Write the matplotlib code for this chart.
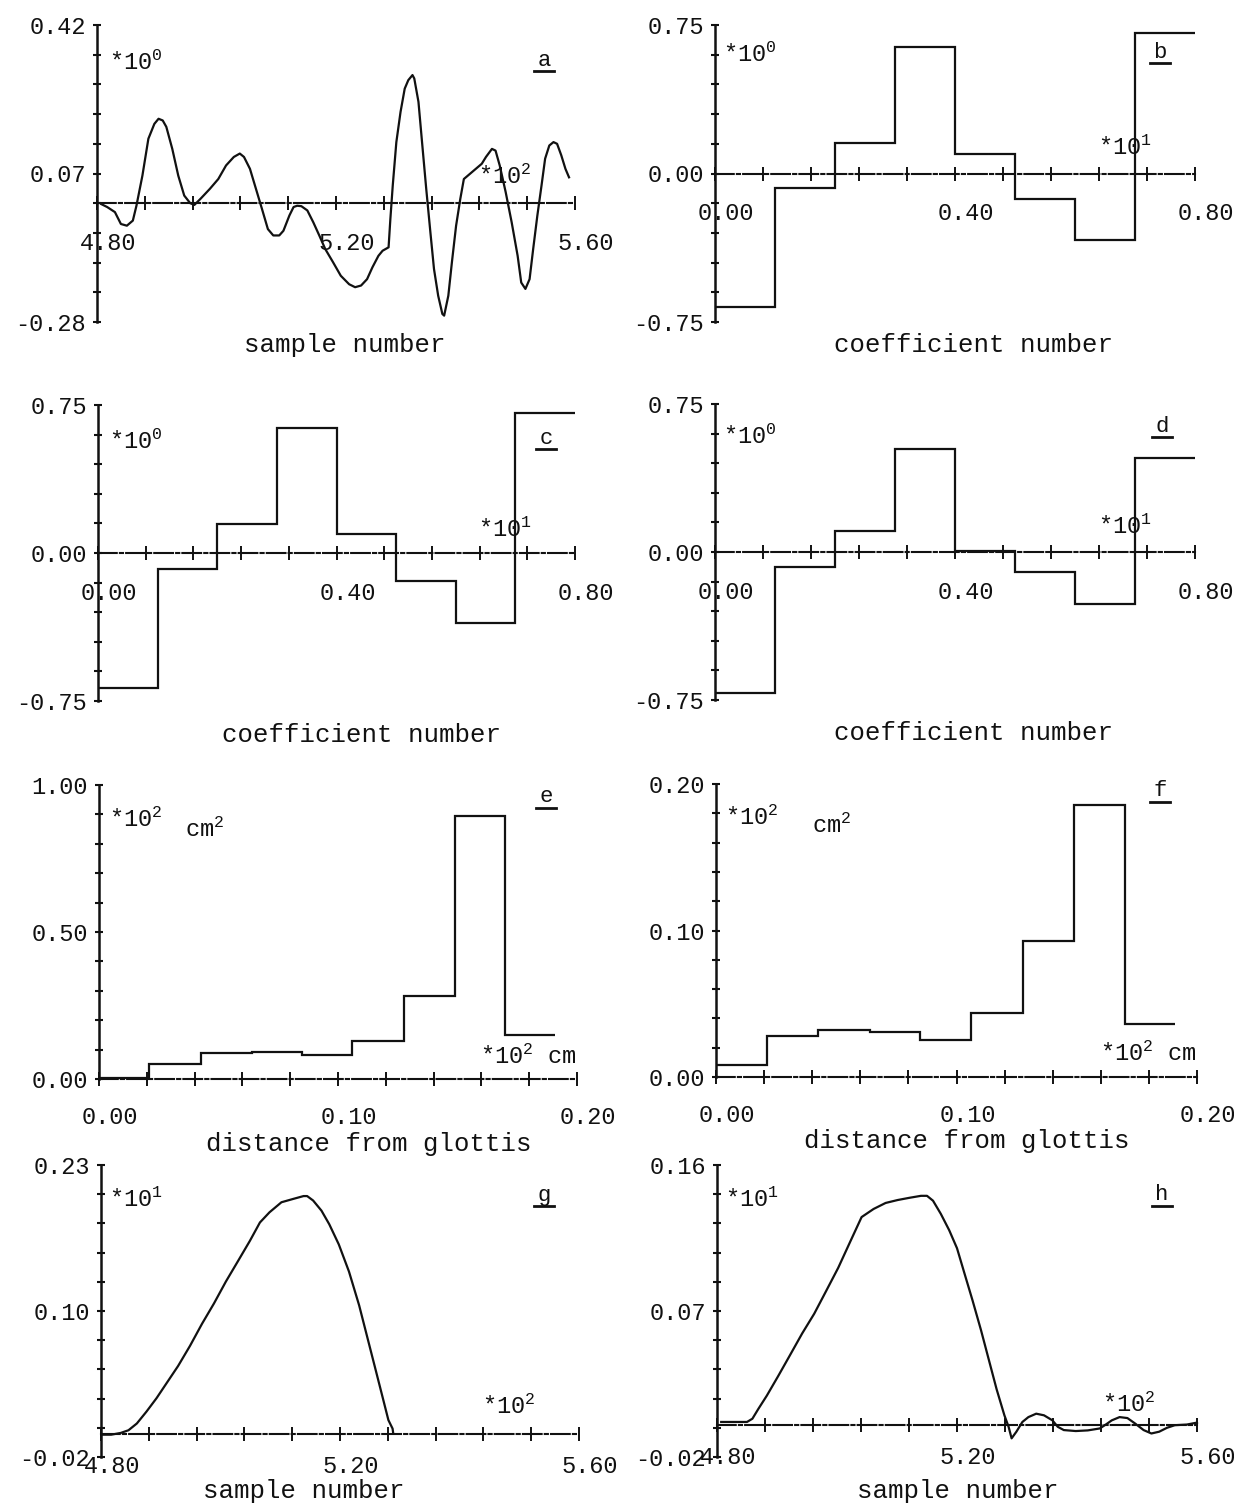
"""Eight-panel figure: signal, coefficients, area functions and glottal pulses."""

import matplotlib

matplotlib.use("Agg")
import matplotlib.pyplot as plt
import numpy as np

plt.rcParams["font.family"] = ["Liberation Mono", "DejaVu Sans Mono"]
plt.rcParams["mathtext.default"] = "regular"

W, H = 1234, 1506
INK = "#111111"

# panel a: speech segment (sample number, amplitude)
a_x = [480.7, 481.7, 483.0, 484.0, 485.0, 486.0, 486.6, 487.6, 488.6, 489.6,
       490.3, 491.0, 491.6, 492.6, 493.6, 494.6, 495.6, 496.3, 497.3, 498.9,
       500.3, 501.6, 502.9, 503.9, 504.6, 505.6, 506.6, 507.6, 508.6, 509.5,
       510.5, 511.2, 512.2, 512.9, 513.5, 514.2, 515.2, 516.2, 517.2, 518.2,
       519.5, 520.8, 522.2, 523.2, 524.2, 525.2, 526.1, 527.1, 527.8, 528.8,
       529.1, 529.5, 530.1, 530.8, 531.5, 532.1, 532.8, 533.1, 533.8, 534.4,
       535.1, 535.8, 536.4, 537.1, 537.8, 538.1, 538.8, 539.4, 540.1, 540.8,
       541.4, 542.4, 543.4, 544.4, 545.1, 546.1, 546.7, 547.4, 548.4, 549.4,
       550.4, 551.0, 551.7, 552.4, 553.0, 553.7, 554.4, 555.0, 555.7, 556.4,
       557.0, 557.7, 558.4, 559.0]
a_y = [-0.002, -0.009, -0.021, -0.049, -0.053, -0.041, -0.006, 0.065, 0.152, 0.187,
       0.199, 0.195, 0.180, 0.128, 0.065, 0.018, 0.000, -0.004, 0.010, 0.034,
       0.057, 0.089, 0.109, 0.117, 0.109, 0.081, 0.034, -0.013, -0.061, -0.076,
       -0.076, -0.065, -0.029, -0.009, -0.006, -0.007, -0.017, -0.045, -0.076, -0.108,
       -0.139, -0.171, -0.191, -0.198, -0.194, -0.179, -0.151, -0.124, -0.112, -0.104,
       -0.037, 0.042, 0.144, 0.215, 0.270, 0.290, 0.302, 0.294, 0.239, 0.144,
       0.034, -0.069, -0.155, -0.218, -0.261, -0.265, -0.218, -0.139, -0.053, 0.010,
       0.057, 0.069, 0.081, 0.093, 0.109, 0.128, 0.124, 0.089, 0.026, -0.045,
       -0.124, -0.187, -0.202, -0.179, -0.108, -0.029, 0.042, 0.105, 0.136, 0.144,
       0.140, 0.113, 0.081, 0.061]

# panels b, c, d: reflection coefficients
coef_edges = [0, 1, 2, 3, 4, 5, 6, 7, 8]
b_vals = [-0.672, -0.073, 0.155, 0.640, 0.101, -0.130, -0.338, 0.711]
c_vals = [-0.682, -0.081, 0.147, 0.635, 0.096, -0.140, -0.353, 0.708]
d_vals = [-0.714, -0.074, 0.107, 0.522, 0.005, -0.099, -0.265, 0.476]

# panels e, f: area function (x10^2 cm^2) vs distance from glottis (x10^2 cm)
area_edges = [0.0, 0.021, 0.0425, 0.064, 0.085, 0.106, 0.1275, 0.149, 0.170, 0.191]
e_vals = [0.002, 0.051, 0.088, 0.091, 0.083, 0.128, 0.281, 0.896, 0.151]
f_vals = [0.0084, 0.0278, 0.0319, 0.0308, 0.0255, 0.0440, 0.0928, 0.1859, 0.0360]

# panel g: glottal pulse
g_x = [480.2, 481.7, 483.3, 484.6, 486.0, 487.6, 489.3, 491.0, 492.9, 494.9,
       496.9, 498.9, 500.9, 502.9, 504.9, 506.6, 508.2, 510.2, 512.2, 513.9,
       514.5, 515.5, 516.9, 518.2, 519.8, 521.5, 523.2, 524.5, 525.8, 527.1,
       528.1, 528.8, 528.9]
g_y = [-0.0009, -0.0009, 0.0006, 0.0029, 0.0087, 0.0188, 0.0304, 0.0434, 0.0579, 0.0752,
       0.0940, 0.1114, 0.1302, 0.1475, 0.1649, 0.1808, 0.1895, 0.1981, 0.2010, 0.2034,
       0.2034, 0.1996, 0.1909, 0.1793, 0.1620, 0.1388, 0.1099, 0.0839, 0.0579, 0.0318,
       0.0116, 0.0043, 0.0006]

# panel h: estimated glottal pulse
h_x = [480.7, 485.0, 485.9, 486.9, 488.3, 490.2, 492.2, 494.2, 496.2, 498.2,
       500.2, 502.2, 504.1, 506.1, 508.1, 510.1, 512.1, 514.0, 515.0, 516.0,
       517.3, 518.7, 520.0, 521.3, 522.6, 524.0, 525.3, 526.6, 527.9, 528.6,
       529.1, 529.9, 530.9, 531.9, 533.2, 534.5, 535.9, 536.8, 537.8, 539.8,
       541.8, 543.8, 544.8, 545.8, 547.1, 548.4, 549.7, 551.1, 552.4, 553.7,
       555.0, 556.3, 558.3, 560.0]
h_y = [0.0016, 0.0016, 0.0036, 0.0097, 0.0178, 0.0299, 0.0430, 0.0562, 0.0683, 0.0824,
       0.0966, 0.1127, 0.1279, 0.1329, 0.1366, 0.1384, 0.1398, 0.1410, 0.1410, 0.1380,
       0.1299, 0.1198, 0.1087, 0.0925, 0.0764, 0.0582, 0.0400, 0.0218, 0.0057, -0.0014,
       -0.0085, -0.0044, 0.0016, 0.0046, 0.0067, 0.0057, 0.0026, -0.0014, -0.0034, -0.0040,
       -0.0036, -0.0024, 0.0000, 0.0026, 0.0046, 0.0040, 0.0006, -0.0034, -0.0055, -0.0044,
       -0.0020, -0.0004, 0.0000, 0.0012]

sample_ticks = ["4.80", "5.20", "5.60"]
coef_ticks = ["0.00", "0.40", "0.80"]
dist_ticks = ["0.00", "0.10", "0.20"]

fig = plt.figure(figsize=(W / 100, H / 100), dpi=100)


def fig_text(x, y, s, **kw):
    fig.text(x / W, 1 - y / H, s, color=INK, **kw)


def make_panel(rect, xlim, ylim, ylabels, xlabels, title, title_xy, label_drop=29):
    left, right, top, bottom = rect
    ax = fig.add_axes([left / W, 1 - bottom / H, (right - left) / W, (bottom - top) / H])
    ax.set_xlim(xlim)
    ax.set_ylim(ylim)
    ax.patch.set_visible(False)
    ax.spines[["top", "right"]].set_visible(False)
    ax.spines["left"].set_linewidth(1.8)
    ax.spines["left"].set_color(INK)
    ax.spines["bottom"].set_position(("data", 0))
    ax.spines["bottom"].set_linestyle((0, (9, 1.5, 1.5, 1.5)))
    ax.spines["bottom"].set_linewidth(1.5)
    ax.spines["bottom"].set_color(INK)

    yt = np.linspace(ylim[0], ylim[1], 11)
    ylab = [""] * 11
    ylab[0], ylab[5], ylab[10] = ylabels
    ax.set_yticks(yt, ylab)
    ax.tick_params(axis="y", direction="inout", length=6, width=1.5, pad=5,
                   labelsize=17, colors=INK)

    xt = np.linspace(xlim[0], xlim[1], 11)
    ax.set_xticks(xt, [""] * 11)
    ax.tick_params(axis="x", direction="inout", length=10, width=1.4, colors=INK)
    for xv, lab in zip([xt[0], xt[5], xt[10]], xlabels):
        ax.annotate(lab, xy=(xv, 0), xytext=(8, -label_drop), textcoords="offset points",
                    ha="center", va="center", fontsize=17, color=INK,
                    annotation_clip=False)
    fig_text(*title_xy, title, ha="center", va="center", fontsize=18.5)
    return ax


def mult(x, y, s):
    fig_text(x, y, s, ha="left", va="center", fontsize=17)


def panel_letter(x, y, s):
    fig_text(x, y, s, ha="center", va="center", fontsize=16)
    fig.add_artist(plt.Line2D([(x - 10) / W, (x + 10) / W], [1 - (y + 11) / H] * 2,
                              color=INK, lw=2))


# a
ax = make_panel((97, 575, 25, 322), (480, 560), (-0.28, 0.42),
                ["-0.28", "0.07", "0.42"], sample_ticks, "sample number", (345, 345))
ax.plot(a_x, a_y, color=INK, lw=1.6, clip_on=False)
mult(109, 63, "*10$^0$")
mult(478, 177, "*10$^2$")
panel_letter(544, 60, "a")

# b, c, d
for rect, vals, letter, lpos, tpos, m0, m1 in [
    ((715, 1195, 25, 322), b_vals, "b", (1160, 52), (973, 345), (723, 55), (1098, 148)),
    ((98, 575, 405, 701), c_vals, "c", (546, 438), (361, 735), (109, 442), (478, 530)),
    ((715, 1195, 404, 700), d_vals, "d", (1162, 426), (973, 733), (723, 437), (1098, 527)),
]:
    ax = make_panel(rect, (0, 8), (-0.75, 0.75), ["-0.75", "0.00", "0.75"],
                    coef_ticks, "coefficient number", tpos)
    ax.stairs(vals, coef_edges, baseline=None, color=INK, lw=1.6, clip_on=False)
    mult(*m0, "*10$^0$")
    mult(*m1, "*10$^1$")
    panel_letter(*lpos, letter)

# e, f
for rect, vals, ylim, ylabels, letter, lpos, tpos, m0, cm, m1 in [
    ((99, 577, 785, 1079), e_vals, (0, 1.0), ["0.00", "0.50", "1.00"], "e",
     (546, 797), (369, 1144), (109, 820), (185, 830), (480, 1057)),
    ((716, 1197, 784, 1077), f_vals, (0, 0.2), ["0.00", "0.10", "0.20"], "f",
     (1160, 791), (967, 1141), (725, 818), (812, 826), (1100, 1054)),
]:
    ax = make_panel(rect, (0, 0.2), ylim, ylabels, dist_ticks,
                    "distance from glottis", tpos, label_drop=28)
    ax.stairs(vals, area_edges, baseline=None, color=INK, lw=1.6, clip_on=False)
    mult(*m0, "*10$^2$")
    mult(*cm, "cm$^2$")
    mult(*m1, "*10$^2$ cm")
    panel_letter(*lpos, letter)

# g, h
for rect, xs, ys, ylim, ylabels, letter, lpos, tpos, m0, m1 in [
    ((101, 579, 1165, 1457), g_x, g_y, (-0.02, 0.23), ["-0.02", "0.10", "0.23"], "g",
     (544, 1195), (304, 1491), (109, 1200), (482, 1407)),
    ((717, 1197, 1165, 1457), h_x, h_y, (-0.02, 0.16), ["-0.02", "0.07", "0.16"], "h",
     (1162, 1195), (958, 1491), (725, 1200), (1102, 1405)),
]:
    ax = make_panel(rect, (480, 560), ylim, ylabels, sample_ticks, "sample number", tpos,
                    label_drop=24)
    ax.plot(xs, ys, color=INK, lw=1.6, clip_on=False)
    mult(*m0, "*10$^1$")
    mult(*m1, "*10$^2$")
    panel_letter(*lpos, letter)

fig.savefig("out.png", dpi=100, facecolor="white")
